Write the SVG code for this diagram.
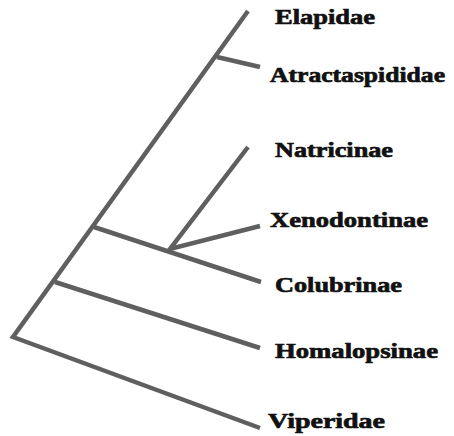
<svg xmlns="http://www.w3.org/2000/svg" width="454" height="436" viewBox="0 0 454 436">
<style>
.br{stroke:#5f5f5f;stroke-width:4.5;fill:none;stroke-linecap:butt;stroke-linejoin:miter}
.lb{font-family:"Liberation Serif","Times New Roman",serif;font-weight:bold;font-size:22px;fill:#111;stroke:#111;stroke-width:0.7}
</style>
<rect width="454" height="436" fill="#fff"/>
<g id="connectors">
<path class="br" d="M248,11 L13,337 L260,428"/>
<path class="br" d="M217,57 L260,67"/>
<path class="br" d="M94,227 L261,282"/>
<path class="br" d="M248,147 L170,249 L260,226"/>
<path class="br" d="M55,282 L260,348"/>
</g>
<g id="n-elapidae"><text class="lb" x="275" y="24" textLength="100" lengthAdjust="spacingAndGlyphs">Elapidae</text></g>
<g id="n-atractaspididae"><text class="lb" x="270" y="82" textLength="175" lengthAdjust="spacingAndGlyphs">Atractaspididae</text></g>
<g id="n-natricinae"><text class="lb" x="275" y="157" textLength="118" lengthAdjust="spacingAndGlyphs">Natricinae</text></g>
<g id="n-xenodontinae"><text class="lb" x="270" y="227" textLength="158" lengthAdjust="spacingAndGlyphs">Xenodontinae</text></g>
<g id="n-colubrinae"><text class="lb" x="275" y="292" textLength="127" lengthAdjust="spacingAndGlyphs">Colubrinae</text></g>
<g id="n-homalopsinae"><text class="lb" x="275" y="358" textLength="163" lengthAdjust="spacingAndGlyphs">Homalopsinae</text></g>
<g id="n-viperidae"><text class="lb" x="268" y="428" textLength="117" lengthAdjust="spacingAndGlyphs">Viperidae</text></g>
</svg>
